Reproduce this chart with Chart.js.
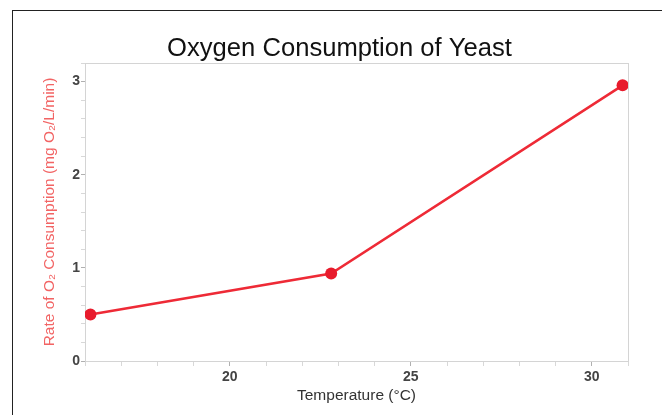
<!DOCTYPE html>
<html>
<head>
<meta charset="utf-8">
<title>Oxygen Consumption of Yeast</title>
<script src="https://cdn.jsdelivr.net/npm/chart.js@4/dist/chart.umd.min.js"></script>
<style>
    html, body { margin: 0; padding: 0; background: #fff; }
    #wrap { position: relative; width: 662px; height: 415px; overflow: hidden; }
    #frame { position: absolute; left: 12px; top: 10px; width: 700px; height: 500px;
             border-left: 1px solid #222; border-top: 1px solid #222; }
    #chart { position: absolute; left: 0; top: 0; }
</style>
</head>
<body>
<div id="wrap">
    <div id="frame"></div>
    <canvas id="chart" width="662" height="415"></canvas>
</div>
<script>
// temperature in deg C and oxygen consumption rate in mg O2/L/min
var temperatures = [16.15, 22.8, 30.85];
var rates = [0.5, 0.94, 2.96];
var xTickLabels = [20, 25, 30];
var yTickLabels = [0, 1, 2, 3];

var fontFamily = 'Liberation Sans, Arial, sans-serif';

/**
 * Draws the light grey box round the plot area
 */
var plotBox = {
    id: 'plotBox',
    beforeDatasetsDraw: function(chart) {
        var a = chart.chartArea;
        var ctx = chart.ctx;
        ctx.save();
        ctx.strokeStyle = '#d4d4d4';
        ctx.lineWidth = 1;
        ctx.strokeRect(a.left + 0.5, a.top + 0.5, a.right - a.left, a.bottom - a.top);
        ctx.restore();
    }
};

/**
 * Keep only the labelled ticks as text, the rest are minor marks
 *
 * @param array labels
 */
function majorOnly(labels) {
    return function(value) {
        for (var i = 0; i < labels.length; i++) {
            if (Math.abs(value - labels[i]) < 1e-6) {
                return String(labels[i]);
            }
        }
        return '';
    };
}

function tickShade(labels) {
    return function(c) {
        var v = c.tick ? c.tick.value : 0;
        return majorOnly(labels)(v) === '' ? '#d8d8d8' : '#b0b0b0';
    };
}

new Chart(document.getElementById('chart'), {
    type: 'line',
    data: {
        labels: temperatures,
        datasets: [{
            data: temperatures.map(function(t, i) { return {x: t, y: rates[i]}; }),
            borderColor: '#ee2a36',
            backgroundColor: '#e81b2c',
            pointBackgroundColor: '#e81b2c',
            pointBorderColor: '#e81b2c',
            borderWidth: 2.5,
            pointRadius: 6,
            pointBorderWidth: 0,
            tension: 0,
            clip: 0
        }]
    },
    options: {
        responsive: false,
        animation: false,
        devicePixelRatio: 1,
        layout: { padding: { left: 51, right: 34, top: 0, bottom: 0 } },
        plugins: {
            legend: { display: false },
            tooltip: { enabled: false },
            title: {
                display: true,
                text: 'Oxygen Consumption of Yeast',
                color: '#111',
                font: { family: fontFamily, size: 25.6, weight: 'normal', lineHeight: 1 },
                padding: { top: 36, bottom: 1.4 }
            }
        },
        scales: {
            x: {
                type: 'linear',
                min: 16,
                max: 31,
                afterFit: function(scale) { scale.height = 54; },
                border: { color: '#d4d4d4' },
                grid: { drawOnChartArea: false, tickLength: 5, tickColor: tickShade(xTickLabels) },
                ticks: {
                    stepSize: 1,
                    autoSkip: false,
                    maxRotation: 0,
                    padding: 3,
                    color: '#444',
                    font: { family: fontFamily, size: 14, weight: 'bold' },
                    callback: majorOnly(xTickLabels)
                },
                title: {
                    display: true,
                    text: 'Temperature (°C)',
                    color: '#333',
                    font: { family: fontFamily, size: 15.5 },
                    padding: { top: 0, bottom: 9.7 }
                }
            },
            y: {
                type: 'linear',
                min: 0,
                max: 3.2,
                afterFit: function(scale) { scale.width = 34; },
                border: { color: '#d4d4d4' },
                grid: { drawOnChartArea: false, tickLength: 4, tickColor: tickShade(yTickLabels) },
                ticks: {
                    stepSize: 0.2,
                    autoSkip: false,
                    padding: 1,
                    color: '#444',
                    font: { family: fontFamily, size: 14, weight: 'bold' },
                    callback: majorOnly(yTickLabels)
                },
                title: {
                    display: true,
                    text: 'Rate of O₂ Consumption (mg O₂/L/min)',
                    color: '#f26464',
                    font: { family: fontFamily, size: 15.5 },
                    padding: { top: -10.3, bottom: 0 }
                }
            }
        }
    },
    plugins: [plotBox]
});
</script>
</body>
</html>
